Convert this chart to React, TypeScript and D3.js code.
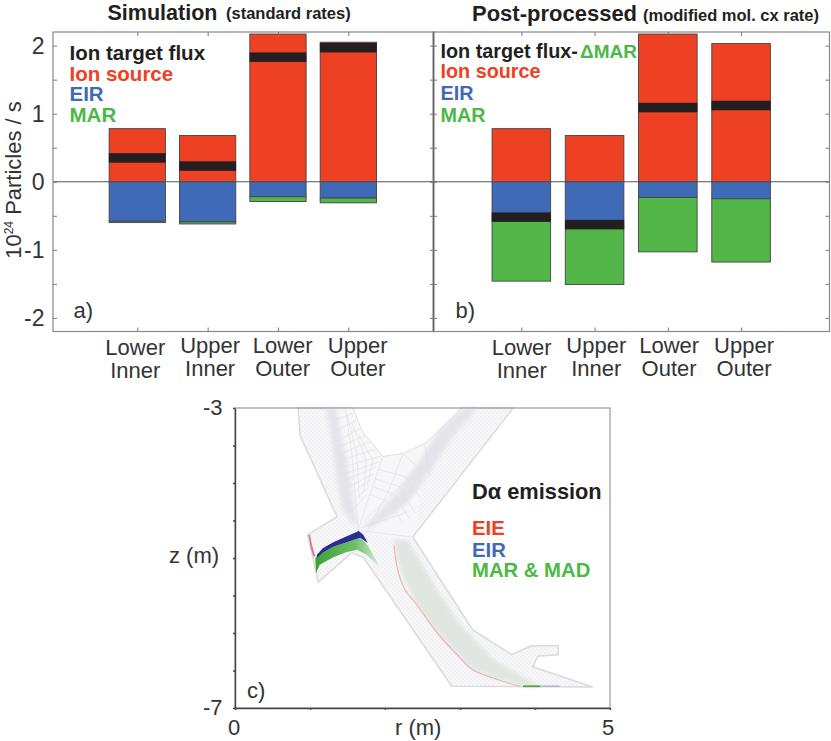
import * as d3 from "d3";
import { useEffect, useRef } from "react";

// ---- bar data (10^24 particles / s) ----
const categories = ["Lower Inner", "Upper Inner", "Lower Outer", "Upper Outer"];
const yTicks = [-2, -1.5, -1, -0.5, 0, 0.5, 1, 1.5, 2];
const yLabels = [-2, -1, 0, 1, 2];

const sourceA = [0.78, 0.68, 2.17, 2.05];
const eirA = [-0.58, -0.59, -0.22, -0.24];
const marA = [-0.6, -0.62, -0.29, -0.31];
const fluxA = [0.35, 0.23, 1.83, 1.97];

const sourceB = [0.78, 0.68, 2.17, 2.03];
const eirB = [-0.55, -0.66, -0.23, -0.25];
const marB = [-1.46, -1.51, -1.03, -1.18];
const fluxB = [-0.52, -0.63, 1.09, 1.12];

// ---- mesh data, in (r, z) metres ----
type P = [number, number];
const meshOutline: P[] = [
  [0.84, -3], [0.87, -3.37], [1.36, -4.45], [0.97, -4.69], [1.11, -5.32], [1.56, -4.93], [1.71, -4.99],
  [2.89, -6.71], [4.77, -6.72], [3.97, -6.45], [4.04, -6.31], [4.31, -6.29], [4.31, -6.17],
  [3.95, -6.17], [3.69, -6.29], [3.17, -5.96], [2.37, -4.72], [3.71, -3], [3.03, -3], [2.87, -3.17],
  [2.53, -3.48], [2.24, -3.61], [1.97, -3.65], [1.69, -3.31], [1.57, -3],
];
const coreFan: P[] = [
  [1.21, -3], [1.57, -3], [1.69, -3.31], [1.97, -3.65], [2.24, -3.61], [2.53, -3.48], [2.87, -3.17], [3.03, -3],
  [3.24, -3], [2.87, -3.43], [2.53, -3.96], [2.37, -4.72], [2.11, -4.76], [1.64, -4.63], [1.43, -4.36],
  [1.33, -3.79], [1.27, -3.33],
];
const leftBand: P[] = [[1.21, -3], [1.35, -3], [1.51, -3.79], [1.64, -4.63], [1.43, -4.36], [1.33, -3.79], [1.27, -3.33]];
const rightBand: P[] = [
  [3.03, -3], [3.24, -3], [2.87, -3.43], [2.53, -3.96], [2.27, -4.3], [1.84, -4.59], [1.71, -4.59], [2.13, -4.16],
  [2.47, -3.69], [2.73, -3.29],
];
const outerBand: P[] = [
  [2.11, -4.76], [2.3, -4.76], [2.7, -5.43], [3.0, -5.89], [3.45, -6.36], [4.07, -6.71], [3.8, -6.71],
  [3.17, -6.49], [2.73, -6.04], [2.43, -5.63], [2.22, -5.2],
];
const meshLines: P[][] = [
  [[1.33, -3.16], [1.58, -3.07]],
  [[1.35, -3.3], [1.62, -3.16]],
  [[1.37, -3.44], [1.67, -3.27]],
  [[1.38, -3.52], [1.74, -3.37]],
  [[1.4, -3.61], [1.8, -3.45]],
  [[1.41, -3.7], [1.87, -3.55]],
  [[1.43, -3.79], [1.95, -3.64]],
  [[1.44, -3.88], [1.92, -3.72]],
  [[1.45, -3.97], [1.88, -3.79]],
  [[1.47, -4.07], [1.85, -3.88]],
  [[1.49, -4.17], [1.81, -3.96]],
  [[1.52, -4.28], [1.78, -4.06]],
  [[1.55, -4.39], [1.75, -4.16]],
  [[1.47, -3], [1.56, -3.63], [1.64, -4.63]],
  [[1.5, -3.1], [1.62, -3.6], [1.66, -4.2]],
  [[1.56, -3.2], [1.75, -3.7], [1.72, -4.1]],
  [[1.64, -3.35], [1.84, -3.7], [1.76, -4.05]],
  [[1.97, -3.65], [1.8, -4.15], [1.64, -4.63]],
  [[2.24, -3.61], [2.05, -4.1], [1.75, -4.66]],
  [[1.64, -4.63], [2.37, -4.72]],
  [[1.68, -4.6], [2.32, -4.38]],
  [[1.72, -4.5], [2.25, -4]],
  [[1.8, -4.15], [2.05, -4.25], [2.25, -4.55]],
  [[1.84, -4.05], [2.12, -4.15], [2.33, -4.48]],
  [[1.88, -3.95], [2.2, -4.05], [2.4, -4.4]],
  [[1.92, -3.82], [2.28, -3.92], [2.47, -4.2]],
  [[2.53, -3.48], [2.6, -3.9]],
  [[2.87, -3.17], [2.95, -3.35]],
  [[2.24, -3.61], [2.45, -3.8]],
];
const redLegInner: P[] = [
  [0.98, -4.69], [1.01, -4.87], [1.05, -4.99], [1.07, -4.97], [1.03, -4.84], [1, -4.69],
];
const blueInner: P[] = [
  [1.09, -4.96], [1.17, -4.87], [1.31, -4.79], [1.49, -4.71], [1.65, -4.64], [1.71, -4.69], [1.77, -4.8],
  [1.67, -4.73], [1.49, -4.79], [1.31, -4.85], [1.17, -4.93], [1.09, -5],
];
const greenInner: P[] = [
  [1.07, -5], [1.08, -5.2], [1.13, -5.09], [1.31, -4.99], [1.49, -4.92], [1.63, -4.89], [1.76, -4.96],
  [1.93, -5.12], [1.77, -4.83], [1.67, -4.73], [1.49, -4.79], [1.31, -4.85], [1.17, -4.93],
];
const redOuter: P[] = [
  [2.12, -4.83], [2.17, -5.16], [2.27, -5.43], [2.43, -5.63], [2.69, -5.99], [3, -6.33], [3.17, -6.49],
  [3.53, -6.63], [3.8, -6.71],
];
const greenStrike: P[] = [[3.84, -6.71], [4.07, -6.71]];
const purpleStrike: P[] = [[4.07, -6.71], [4.33, -6.71]];
const rTicks = [0, 1, 2, 3, 4, 5];
const zTicks = [-7, -6.5, -6, -5.5, -5, -4.5, -4, -3.5, -3];

const RED = "#ee4023";
const BLUE = "#3f6ab8";
const GREEN = "#52b748";
const LEGEND_GREEN = "#4cb848";
const BLACK = "#231f20";
const TEXT = "#333";
const FONT = "'Liberation Sans', Arial, sans-serif";

type BarPanel = {
  left: number;
  right: number;
  bandLeft: number;
  bandRight: number;
  source: number[];
  eir: number[];
  mar: number[];
  flux: number[];
  labelNudge: number[];
};

export default function App() {
  const ref = useRef<SVGSVGElement>(null);

  useEffect(() => {
    const svg = d3.select(ref.current);
    svg.selectAll("*").remove();
    const defs = svg.append("defs");

    const label = (x: number, y: number, s: string, size: number, fill = TEXT, weight = 400, anchor = "start") =>
      svg
        .append("text")
        .attr("x", x)
        .attr("y", y)
        .attr("font-size", size)
        .attr("font-weight", weight)
        .attr("fill", fill)
        .attr("text-anchor", anchor)
        .text(s);

    // several lines in one text element, each with its own baseline
    const block = (
      x: number,
      lines: { y: number; s: string; fill: string }[],
      size: number,
      weight = 700,
      anchor = "start"
    ) => {
      const t = svg.append("text").attr("font-size", size).attr("font-weight", weight).attr("text-anchor", anchor);
      lines.forEach((l) => t.append("tspan").attr("x", x).attr("y", l.y).attr("fill", l.fill).text(l.s));
    };

    // ---- y scale shared by panels a and b ----
    const top = 32;
    const bottom = 331.5;
    const y = d3.scaleLinear().domain([-2.2, 2.2]).range([bottom, top]);

    const drawBars = (p: BarPanel) => {
      const x = d3
        .scaleBand<string>()
        .domain(categories)
        .range([p.bandLeft, p.bandRight])
        .paddingInner(0.2)
        .paddingOuter(0.1);
      const g = svg.append("g");

      categories.forEach((c, i) => {
        const bx = x(c) as number;
        const w = x.bandwidth();
        const rect = (v0: number, v1: number, fill: string) =>
          g
            .append("rect")
            .attr("x", bx)
            .attr("width", w)
            .attr("y", y(Math.max(v0, v1)))
            .attr("height", Math.abs(y(v0) - y(v1)))
            .attr("fill", fill)
            .attr("stroke", "#444")
            .attr("stroke-width", 0.9);
        rect(0, p.source[i], RED);
        rect(0, p.eir[i], BLUE);
        rect(p.eir[i], p.mar[i], GREEN);
        // ion target flux marker
        g.append("rect")
          .attr("x", bx - 0.3)
          .attr("width", w + 0.6)
          .attr("y", y(p.flux[i] + 0.07))
          .attr("height", y(p.flux[i] - 0.07) - y(p.flux[i] + 0.07))
          .attr("fill", BLACK);

        const [first, second] = c.split(" ");
        const cx = (x(c) as number) + w / 2 + p.labelNudge[i];
        const drop = i === 0 ? 2 : 0;
        block(
          cx,
          [
            { y: 353 + drop, s: first, fill: TEXT },
            { y: 375.5 + drop, s: second, fill: TEXT },
          ],
          22,
          400,
          "middle"
        );
      });

      // zero line
      g.append("line")
        .attr("x1", p.left)
        .attr("x2", p.right)
        .attr("y1", y(0))
        .attr("y2", y(0))
        .attr("stroke", "#555")
        .attr("stroke-width", 1);

      // frame and ticks
      const axisStyle = (a: d3.Selection<SVGGElement, unknown, null, undefined>) => {
        a.select(".domain").remove();
        a.selectAll("line").attr("stroke", "#777");
        a.selectAll("text").remove();
      };
      const centers = d3.scalePoint<string>().domain(categories).range([
        (x(categories[0]) as number) + x.bandwidth() / 2,
        (x(categories[3]) as number) + x.bandwidth() / 2,
      ]);
      const gl = svg.append("g").attr("transform", `translate(${p.left},0)`);
      gl.call(d3.axisRight(y).tickValues(yTicks).tickSize(4) as any);
      axisStyle(gl as any);
      const gr = svg.append("g").attr("transform", `translate(${p.right},0)`);
      gr.call(d3.axisLeft(y).tickValues(yTicks).tickSize(4) as any);
      axisStyle(gr as any);
      const gb = svg.append("g").attr("transform", `translate(0,${bottom})`);
      gb.call(d3.axisTop(centers).tickSize(4) as any);
      axisStyle(gb as any);
      const gt = svg.append("g").attr("transform", `translate(0,${top})`);
      gt.call(d3.axisBottom(centers).tickSize(4) as any);
      axisStyle(gt as any);

      svg
        .append("rect")
        .attr("x", p.left)
        .attr("y", top)
        .attr("width", p.right - p.left)
        .attr("height", bottom - top)
        .attr("fill", "none")
        .attr("stroke", "#888")
        .attr("stroke-width", 1.2);
    };

    drawBars({
      left: 53,
      right: 434,
      bandLeft: 102.1,
      bandRight: 383.5,
      source: sourceA,
      eir: eirA,
      mar: marA,
      flux: fluxA,
      labelNudge: [-2, 2.5, 4.7, 9.4],
    });
    drawBars({
      left: 433,
      right: 829.5,
      bandLeft: 484.7,
      bandRight: 777.7,
      source: sourceB,
      eir: eirB,
      mar: marB,
      flux: fluxB,
      labelNudge: [0.4, 1.7, 1.3, 3],
    });

    // divider between a and b
    svg.append("line").attr("x1", 433.5).attr("x2", 433.5).attr("y1", top).attr("y2", bottom).attr("stroke", "#666");

    // y tick labels
    yLabels.forEach((v) => label(44.5, y(v) + 8.5, String(v), 23, TEXT, 400, "end"));

    // y axis title
    const yt = svg
      .append("text")
      .attr("transform", "translate(21,180) rotate(-90)")
      .attr("text-anchor", "middle")
      .attr("font-size", 22)
      .attr("fill", TEXT);
    yt.append("tspan").text("10");
    yt.append("tspan").attr("font-size", 12).attr("dy", -8).text("24");
    yt.append("tspan").attr("dy", 8).text(" Particles / s");

    // titles
    label(107.5, 19.5, "Simulation", 21.5, BLACK, 700);
    label(226, 19, "(standard rates)", 16.5, BLACK, 700);
    label(472, 20.5, "Post-processed", 22, BLACK, 700);
    label(643, 20.5, "(modified mol. cx rate)", 16.5, BLACK, 700);

    // legends
    block(
      69.5,
      [
        { y: 60, s: "Ion target flux", fill: BLACK },
        { y: 80.5, s: "Ion source", fill: RED },
        { y: 101, s: "EIR", fill: BLUE },
        { y: 122, s: "MAR", fill: LEGEND_GREEN },
      ],
      20.5
    );
    block(
      440.5,
      [
        { y: 57.5, s: "Ion target flux-", fill: BLACK },
        { y: 78, s: "Ion source", fill: RED },
        { y: 100, s: "EIR", fill: BLUE },
        { y: 122, s: "MAR", fill: LEGEND_GREEN },
      ],
      19.8
    );
    label(580, 57.5, "ΔMAR", 19, LEGEND_GREEN, 700);
    label(73.5, 318, "a)", 22);
    label(455.5, 318, "b)", 22);

    // ---- panel c ----
    const r = d3.scaleLinear().domain([0, 5]).range([235, 610]);
    const z = d3.scaleLinear().domain([-7, -3]).range([708, 408]);
    const line = d3.line<P>().x((d) => r(d[0])).y((d) => z(d[1]));
    const closed = d3.line<P>().x((d) => r(d[0])).y((d) => z(d[1])).curve(d3.curveLinearClosed);
    const smooth = d3.line<P>().x((d) => r(d[0])).y((d) => z(d[1])).curve(d3.curveCatmullRom);

    const dots = defs
      .append("pattern")
      .attr("id", "meshDots")
      .attr("width", 4)
      .attr("height", 4)
      .attr("patternUnits", "userSpaceOnUse");
    dots.append("rect").attr("width", 4).attr("height", 4).attr("fill", "#f8f8fa");
    dots.append("circle").attr("cx", 1).attr("cy", 1).attr("r", 0.55).attr("fill", "#dcdce1");
    dots.append("circle").attr("cx", 3).attr("cy", 3).attr("r", 0.55).attr("fill", "#dcdce1");

    const soft = defs.append("filter").attr("id", "soft");
    soft.append("feGaussianBlur").attr("stdDeviation", 0.5);
    const softer = defs.append("filter").attr("id", "softer");
    softer.append("feGaussianBlur").attr("stdDeviation", 2);

    const greenFade = defs
      .append("linearGradient")
      .attr("id", "greenFade")
      .attr("gradientUnits", "userSpaceOnUse")
      .attr("x1", r(1.1))
      .attr("x2", r(1.93))
      .attr("y1", 0)
      .attr("y2", 0);
    greenFade.append("stop").attr("offset", 0).attr("stop-color", "#3da437");
    greenFade.append("stop").attr("offset", 0.6).attr("stop-color", "#6dbf68");
    greenFade.append("stop").attr("offset", 1).attr("stop-color", "#dcebdb");

    const mesh = svg.append("g").attr("filter", "url(#soft)");
    mesh
      .append("path")
      .attr("d", closed(meshOutline))
      .attr("fill", "url(#meshDots)")
      .attr("stroke", "#dadae0")
      .attr("stroke-width", 1.5);
    mesh.append("path").attr("d", closed(coreFan)).attr("fill", "#f7f7fa");
    const bands = svg.append("g").attr("filter", "url(#softer)");
    [leftBand, rightBand].forEach((b) => bands.append("path").attr("d", closed(b)).attr("fill", "#e4e4ea"));
    bands.append("path").attr("d", closed(outerBand)).attr("fill", "#e0e6e0");
    const grid = svg.append("g").attr("filter", "url(#soft)");
    meshLines.forEach((m) =>
      grid
        .append("path")
        .attr("d", line(m))
        .attr("fill", "none")
        .attr("stroke", "#dedee3")
        .attr("stroke-width", 0.6)
    );

    const emission = svg.append("g").attr("filter", "url(#soft)");
    emission.append("path").attr("d", smooth(redOuter)).attr("fill", "none").attr("stroke", "#ecb4bd").attr("stroke-width", 1.2);
    emission.append("path").attr("d", line(greenStrike)).attr("stroke", "#4fa64a").attr("stroke-width", 1.8);
    emission.append("path").attr("d", line(purpleStrike)).attr("stroke", "#b9b5cf").attr("stroke-width", 1.6);
    emission.append("path").attr("d", closed(redLegInner)).attr("fill", "#e4747a");
    emission.append("path").attr("d", closed(greenInner)).attr("fill", "url(#greenFade)");
    emission.append("path").attr("d", closed(blueInner)).attr("fill", "#2b2f8f");

    // frame, left and bottom darker
    svg
      .append("rect")
      .attr("x", r(0))
      .attr("y", z(-3))
      .attr("width", r(5) - r(0))
      .attr("height", z(-7) - z(-3))
      .attr("fill", "none")
      .attr("stroke", "#999")
      .attr("stroke-width", 1.2);
    const axR = svg.append("g").attr("transform", `translate(0,${z(-7)})`);
    axR.call(d3.axisBottom(r).tickValues(rTicks).tickSize(2).tickSizeOuter(0).tickFormat(() => "") as any);
    axR.selectAll("path,line").attr("stroke", "#444").attr("stroke-width", 1.4);
    const axZ = svg.append("g").attr("transform", `translate(${r(0)},0)`);
    axZ.call(d3.axisLeft(z).tickValues(zTicks).tickSize(2).tickSizeOuter(0).tickFormat(() => "") as any);
    axZ.selectAll("path,line").attr("stroke", "#444").attr("stroke-width", 1.4);

    label(222.5, 415, "-3", 22, TEXT, 400, "end");
    label(222.5, 715, "-7", 22, TEXT, 400, "end");
    label(234, 735, "0", 22, TEXT, 400, "middle");
    label(608, 735, "5", 22, TEXT, 400, "middle");
    label(395, 735, "r (m)", 22);
    label(169, 563, "z (m)", 22);
    label(247, 698, "c)", 22);

    label(472, 499, "Dα emission", 21.8, BLACK, 700);
    block(
      472,
      [
        { y: 535, s: "EIE", fill: RED },
        { y: 557, s: "EIR", fill: BLUE },
        { y: 577, s: "MAR & MAD", fill: LEGEND_GREEN },
      ],
      20.3
    );
  }, []);

  return (
    <svg
      ref={ref}
      width={831}
      height={741}
      style={{ position: "absolute", left: 0, top: 0, fontFamily: FONT, background: "#fff" }}
    />
  );
}
